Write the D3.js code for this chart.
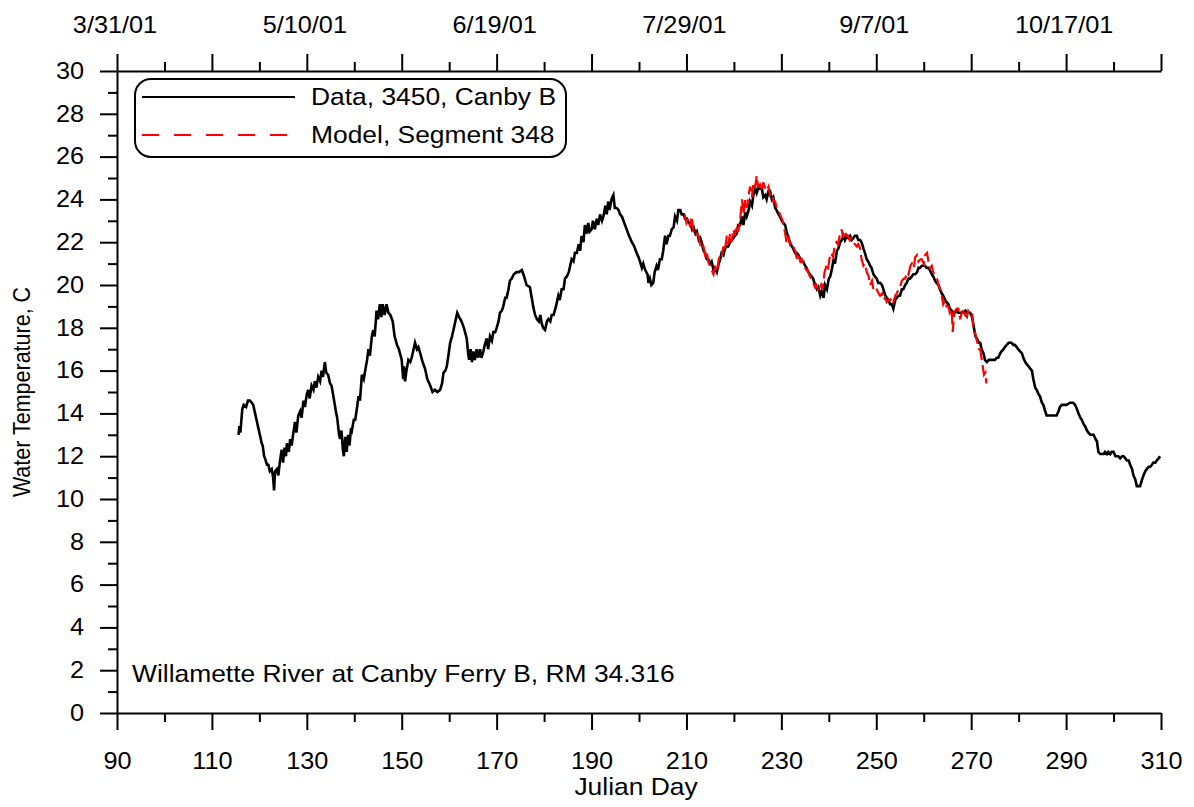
<!DOCTYPE html>
<html>
<head>
<meta charset="utf-8">
<script src="https://cdn.jsdelivr.net/npm/d3@7"></script>
<style>
  html, body { margin: 0; padding: 0; background: #fff; }
  svg { display: block; font-family: "Liberation Sans", Arial, sans-serif; }
</style>
</head>
<body>
<svg id="chart" width="1194" height="807"></svg>
<script>
// ---------- data ----------
const xMajorTicks = [90, 110, 130, 150, 170, 190, 210, 230, 250, 270, 290, 310];
const xMinorTicks = [100, 120, 140, 160, 180, 200, 220, 240, 260, 280, 300];
const yMajorTicks = [0, 2, 4, 6, 8, 10, 12, 14, 16, 18, 20, 22, 24, 26, 28, 30];
const yMinorTicks = [1, 3, 5, 7, 9, 11, 13, 15, 17, 19, 21, 23, 25, 27, 29];
const dateTickDays = [90, 130, 170, 210, 250, 290];
const dateTickLabels = ["3/31/01", "5/10/01", "6/19/01", "7/29/01", "9/7/01", "10/17/01"];
const seriesNames = ["Data, 3450, Canby B", "Model, Segment 348"];
const stationLabel = "Willamette River at Canby Ferry B, RM 34.316";

const dataDay = [115.6,115.8,116.0,116.4,116.7,117.2,117.6,118.0,118.4,118.7,119.1,119.4,119.8,120.1,120.5,120.7,121.0,121.2,121.6,121.9,122.2,122.6,122.9,123.1,123.3,123.7,124.0,124.3,124.7,125.0,125.3,125.6,125.8,126.2,126.5,126.8,127.1,127.5,127.8,128.2,128.6,128.9,129.3,129.6,130.0,130.3,130.6,131.0,131.4,131.7,132.0,132.4,132.8,133.1,133.4,133.8,134.1,134.5,134.9,135.2,135.6,135.9,136.2,136.4,136.8,137.0,137.3,137.6,137.8,138.1,138.4,138.7,139.0,139.3,139.5,139.9,140.2,140.6,140.9,141.2,141.6,142.0,142.3,142.7,143.0,143.3,143.7,144.0,144.3,144.7,145.0,145.4,145.7,146.0,146.4,146.8,147.2,147.6,148.1,148.5,149.0,149.4,150.0,150.3,150.5,150.7,151.0,151.4,151.8,152.1,152.5,152.8,153.2,153.5,153.9,154.4,154.9,155.4,156.0,156.5,157.0,157.5,158.1,158.5,158.8,159.2,159.5,159.9,160.2,160.6,160.9,161.3,161.7,162.1,162.6,163.1,163.7,164.0,164.2,164.5,164.8,165.1,165.4,165.8,166.1,166.5,166.8,167.2,167.5,167.9,168.2,168.6,169.0,169.3,169.7,170.0,170.4,170.7,171.1,171.4,171.8,172.1,172.5,172.8,173.2,173.6,174.2,174.7,175.3,175.8,176.3,177.0,177.4,177.7,178.1,178.5,178.9,179.2,179.5,179.8,180.2,180.6,180.9,181.3,181.6,182.0,182.5,183.0,183.3,183.7,184.1,184.4,184.8,185.2,185.5,185.8,186.2,186.5,186.9,187.3,187.6,187.9,188.3,188.6,189.0,189.3,189.6,190.0,190.3,190.7,191.1,191.4,191.8,192.2,192.5,192.9,193.2,193.5,193.8,194.2,194.6,194.9,195.3,195.7,196.0,196.4,196.9,197.4,197.9,198.5,199.0,199.5,199.9,200.2,200.6,200.9,201.3,201.8,202.0,202.3,202.6,203.0,203.3,203.7,204.0,204.4,204.8,205.1,205.5,205.8,206.2,206.5,206.9,207.3,207.6,208.0,208.3,208.7,209.0,209.4,209.7,210.1,210.5,210.8,211.2,211.5,211.9,212.2,212.6,212.9,213.2,213.6,213.9,214.3,214.6,215.0,215.3,215.7,216.0,216.4,216.8,217.1,217.4,217.8,218.1,218.5,218.8,219.2,219.5,219.9,220.2,220.6,220.9,221.3,221.7,222.0,222.4,222.7,223.1,223.4,223.8,224.1,224.5,224.8,225.2,225.5,225.9,226.2,226.6,226.9,227.3,227.6,228.0,228.3,228.7,229.0,229.4,229.7,230.1,230.4,230.8,231.1,231.5,231.8,232.2,232.5,232.9,233.2,233.6,234.0,234.3,234.6,235.0,235.3,235.7,236.0,236.4,236.7,237.1,237.5,237.8,238.2,238.5,238.9,239.2,239.6,240.0,240.3,240.7,241.0,241.3,241.7,242.0,242.4,242.7,243.1,243.4,243.8,244.1,244.5,244.8,245.2,245.5,245.9,246.2,246.6,246.9,247.3,247.6,248.0,248.3,248.7,249.0,249.4,249.7,250.1,250.4,250.8,251.2,251.5,251.9,252.2,252.6,252.9,253.3,253.6,254.0,254.3,254.7,255.0,255.4,255.7,256.1,256.4,256.8,257.1,257.5,257.8,258.2,258.6,258.9,259.2,259.6,259.9,260.3,260.6,261.0,261.3,261.7,262.0,262.4,262.7,263.1,263.4,263.8,264.1,264.5,264.8,265.2,265.5,265.9,266.3,266.6,267.0,267.3,267.7,268.0,268.4,268.8,269.1,269.5,269.8,270.2,270.5,270.9,271.2,271.6,271.9,272.2,272.6,272.9,273.3,273.7,274.0,274.7,275.0,275.4,275.7,276.1,276.4,276.8,277.1,277.5,277.9,278.2,278.5,278.9,279.2,279.6,279.9,280.3,280.7,281.0,281.4,281.7,282.1,282.4,282.8,283.1,283.5,283.8,284.2,284.5,284.9,285.2,285.6,285.9,286.6,287.3,288.0,288.4,288.7,289.1,289.5,290.1,290.8,291.5,291.9,292.3,292.6,293.0,293.3,293.7,294.0,294.4,294.7,295.1,295.5,295.8,296.2,296.5,296.8,297.2,297.5,297.9,298.2,298.6,298.9,299.3,299.6,300.0,300.4,300.7,301.0,301.4,301.8,302.1,302.5,302.8,303.2,303.5,303.9,304.2,304.6,304.9,305.3,305.6,306.0,306.3,306.7,307.0,307.4,307.7,308.1,308.4,308.8,309.1,309.5,309.8];
const dataTemp = [13.0,13.4,13.1,14.2,14.4,14.3,14.6,14.6,14.5,14.4,14.0,13.7,13.3,13.0,12.6,12.5,12.0,11.9,11.6,11.6,11.3,11.4,11.0,10.4,11.3,11.4,11.1,11.7,12.3,11.7,12.4,12.0,12.6,12.2,12.8,12.5,13.0,13.6,13.1,13.9,14.1,13.8,14.6,14.3,14.9,15.1,14.7,15.3,15.1,15.5,15.2,15.7,15.5,16.0,15.7,16.4,15.9,15.8,15.4,15.3,14.8,14.4,14.0,13.8,13.0,12.8,13.2,12.3,12.0,12.9,12.2,13.0,12.5,13.3,13.2,13.7,13.7,14.3,14.8,14.6,15.8,15.6,16.0,16.5,17.0,16.7,17.6,17.9,17.6,18.8,18.4,19.1,18.5,19.1,18.6,19.1,18.7,18.6,18.3,17.6,17.2,17.0,16.5,15.6,16.2,15.5,16.0,16.5,16.4,16.6,17.0,17.3,17.0,17.1,16.8,16.4,16.1,15.6,15.3,15.0,15.1,15.0,15.1,15.4,15.9,16.0,16.2,16.8,17.3,17.6,17.9,18.3,18.7,18.5,18.3,18.0,17.5,16.8,16.5,17.0,16.4,16.9,16.5,17.0,16.6,17.0,16.6,16.9,17.2,17.5,17.0,17.6,17.4,17.8,17.8,18.0,18.3,18.7,18.8,19.0,19.4,19.4,19.8,20.2,20.3,20.5,20.6,20.6,20.7,20.4,20.0,19.9,19.4,19.0,18.6,18.4,18.3,18.6,18.2,18.0,17.9,18.3,18.4,18.3,18.6,18.6,19.0,19.5,19.3,19.8,19.8,20.3,20.4,20.6,20.9,21.2,21.1,21.5,21.5,21.9,21.6,22.3,22.0,22.8,22.4,22.9,22.5,22.6,23.0,22.6,23.1,22.8,23.3,23.0,23.2,23.7,23.3,23.9,23.5,24.0,24.2,23.6,23.6,23.5,23.3,23.2,22.9,22.6,22.3,22.0,21.8,21.5,21.3,21.1,20.8,21.0,20.7,20.5,20.1,20.3,20.0,20.1,20.6,20.9,20.7,21.2,21.2,21.6,22.3,21.9,22.3,22.3,22.6,22.7,23.2,23.0,23.5,23.5,23.3,23.3,23.1,23.1,22.9,22.9,22.6,22.7,22.4,22.5,22.1,22.2,22.0,21.6,21.5,21.2,21.2,21.0,21.1,20.7,20.8,20.6,21.0,21.2,21.5,21.4,21.7,21.8,21.8,22.0,22.1,22.2,22.3,22.4,22.8,22.8,23.2,22.8,23.4,23.2,23.5,23.9,23.7,24.2,24.5,24.3,24.6,24.5,24.5,24.1,24.2,24.0,24.4,24.4,24.0,24.1,23.6,23.5,23.3,23.2,23.0,22.9,22.8,22.5,22.2,22.0,21.8,21.7,21.5,21.5,21.4,21.2,21.1,21.1,20.9,20.8,20.6,20.5,20.4,20.3,20.0,19.8,19.9,19.5,19.7,19.4,20.0,19.8,20.3,20.4,20.8,21.2,21.0,21.6,21.7,22.0,22.1,22.3,22.1,22.3,22.2,22.3,22.1,22.2,22.3,22.3,22.1,22.1,22.0,21.7,21.5,21.2,21.1,20.9,20.8,20.5,20.4,20.3,20.1,20.1,20.0,19.8,19.5,19.4,19.3,19.1,19.1,18.9,19.3,19.4,19.5,19.5,19.8,19.8,20.0,20.1,20.3,20.3,20.4,20.5,20.5,20.6,20.8,20.8,20.9,20.9,20.9,20.8,20.8,20.7,20.5,20.4,20.2,20.1,20.0,19.8,19.6,19.5,19.3,19.2,19.1,18.9,18.8,18.7,18.7,18.8,18.7,18.7,18.7,18.7,18.8,18.7,18.7,18.7,18.5,18.1,17.6,17.5,17.3,17.3,17.0,16.8,16.5,16.4,16.5,16.5,16.5,16.5,16.6,16.6,16.8,16.9,17.0,17.1,17.2,17.3,17.3,17.3,17.2,17.2,17.1,17.0,16.9,16.8,16.6,16.4,16.3,16.2,16.1,16.0,15.6,15.2,15.1,14.9,14.8,14.5,14.4,14.1,13.9,13.9,13.9,13.9,14.1,14.3,14.4,14.4,14.4,14.5,14.5,14.4,14.2,14.0,13.8,13.7,13.5,13.4,13.2,13.1,13.0,13.0,13.0,12.8,12.7,12.2,12.1,12.1,12.1,12.2,12.1,12.2,12.1,12.2,12.2,12.0,12.0,12.0,11.9,12.0,12.0,11.9,11.8,11.8,11.6,11.4,11.1,10.9,10.6,10.6,10.6,10.9,11.1,11.3,11.4,11.5,11.5,11.6,11.7,11.7,11.8,11.9,12.0];

const modelDay = [209.6,210.0,210.4,210.8,211.1,211.5,211.8,212.2,212.5,212.9,213.2,213.6,214.0,214.3,214.7,215.0,215.3,215.7,216.0,216.4,216.8,217.1,217.4,217.8,218.1,218.5,218.8,219.2,219.5,219.9,220.2,220.6,220.9,221.3,221.7,222.0,222.4,222.7,223.1,223.4,223.8,224.1,224.5,224.8,225.1,225.5,225.9,226.2,226.6,226.9,227.3,227.6,228.0,228.3,228.7,229.0,229.4,229.7,230.1,230.4,230.8,231.1,231.5,231.8,232.2,232.5,232.9,233.3,233.6,234.0,234.3,234.6,235.0,235.3,235.7,236.0,236.4,236.7,237.1,237.4,237.7,238.0,238.4,238.7,239.1,239.5,239.8,240.2,240.5,240.9,241.2,241.6,241.9,242.3,242.7,243.0,243.4,243.7,244.1,244.4,244.8,245.2,245.5,245.9,246.2,246.6,246.9,247.3,247.6,248.0,248.4,248.7,249.1,249.4,249.8,250.1,250.5,250.8,251.2,251.5,251.9,252.2,252.6,252.9,253.3,253.6,254.0,254.3,254.7,255.0,255.4,255.8,256.1,256.5,256.8,257.2,257.5,257.9,258.2,258.6,258.9,259.3,259.6,260.0,260.3,260.7,261.0,261.3,261.7,262.0,262.4,262.8,263.1,263.5,263.8,264.1,264.5,264.8,265.2,265.5,265.9,266.1,266.4,266.6,267.0,267.3,267.7,268.0,268.4,268.7,269.1,269.4,269.8,270.2,270.5,270.9,271.2,271.6,271.9,272.3,272.7,273.0,273.2];
const modelTemp = [23.3,22.9,23.1,22.7,23.2,22.5,22.3,22.4,22.3,21.9,22.0,21.8,21.3,21.5,21.0,20.9,20.7,20.5,20.8,20.6,21.2,21.4,21.3,21.8,21.6,22.3,21.9,22.4,22.0,22.6,22.3,22.8,22.5,23.0,24.0,23.3,24.0,23.6,24.2,24.6,24.1,24.8,24.6,25.1,24.6,24.7,24.4,24.8,24.5,24.4,24.6,24.2,24.3,23.9,23.9,23.6,23.5,23.3,23.1,22.9,22.4,22.0,22.3,21.9,22.0,21.8,21.6,21.2,21.4,21.1,21.2,21.0,20.8,20.7,20.6,20.4,20.3,20.1,19.9,20.0,19.8,19.7,20.0,19.8,20.6,20.9,20.7,21.3,21.5,21.3,21.8,22.0,21.9,22.3,22.6,22.2,22.5,22.3,22.3,22.1,22.2,22.0,21.9,21.8,21.9,21.7,21.2,20.9,21.0,20.6,20.4,20.0,20.2,19.8,19.9,19.8,19.6,19.5,19.6,19.3,19.4,19.2,19.3,19.3,19.4,19.2,19.5,19.6,19.8,19.9,20.2,20.3,20.3,20.6,20.5,20.9,21.0,20.8,21.3,21.4,21.1,21.2,21.2,21.0,21.4,21.5,21.1,20.8,20.9,20.6,20.4,20.3,20.0,19.8,19.5,19.1,19.3,19.0,19.0,18.7,18.9,17.8,18.6,18.8,18.9,18.9,18.4,18.7,18.9,18.6,18.5,18.8,18.7,18.7,17.9,17.7,17.4,17.0,17.0,16.4,15.8,15.9,15.4];

// ---------- layout ----------
const plotLeft = 117, plotRight = 1161, plotTop = 71, plotBottom = 713;
const font = '"Liberation Sans", Arial, sans-serif';
const SX = 1.1;               // the source chart's lettering is slightly wide
const tickFont = 23, textFont = 24, yTitleFont = 21.5;

const svg = d3.select("#chart");
const x = d3.scaleLinear().domain([90, 310]).range([plotLeft, plotRight]);
const y = d3.scaleLinear().domain([0, 30]).range([plotBottom, plotTop]);

function styleAxis(g) {
  g.selectAll("path.domain").attr("stroke", "#000").attr("stroke-width", 2);
  g.selectAll(".tick line").attr("stroke", "#000").attr("stroke-width", 2);
}
function wideText(parent, tx, ty, str, size, anchor) {
  return parent.append("text")
    .attr("transform", `translate(${tx},${ty}) scale(${SX},1)`)
    .attr("text-anchor", anchor || "start")
    .attr("font-family", font).attr("font-size", size).attr("fill", "#000")
    .text(str);
}

// bottom axis
const gB = svg.append("g").attr("transform", `translate(0,${plotBottom})`)
  .call(d3.axisBottom(x).tickValues(xMajorTicks).tickSize(17).tickSizeOuter(0).tickFormat(d3.format("d")));
styleAxis(gB);
gB.selectAll(".tick text").attr("font-family", font).attr("font-size", tickFont).attr("fill", "#000")
  .attr("y", 56).attr("dy", 0).attr("transform", `scale(${SX},1)`);
const gBm = svg.append("g").attr("transform", `translate(0,${plotBottom})`)
  .call(d3.axisBottom(x).tickValues(xMinorTicks).tickSize(9).tickSizeOuter(0).tickFormat(""));
gBm.select("path.domain").remove();
styleAxis(gBm);

// top axis
const gT = svg.append("g").attr("transform", `translate(0,${plotTop})`)
  .call(d3.axisTop(x).tickValues(xMajorTicks).tickSize(17).tickSizeOuter(0).tickFormat(""));
styleAxis(gT);
const gTm = svg.append("g").attr("transform", `translate(0,${plotTop})`)
  .call(d3.axisTop(x).tickValues(xMinorTicks).tickSize(9).tickSizeOuter(0).tickFormat(""));
gTm.select("path.domain").remove();
styleAxis(gTm);

const gDates = svg.append("g");
dateTickDays.forEach((d, i) => wideText(gDates, x(d) - 2, 33, dateTickLabels[i], tickFont, "middle"));

// left axis
const gL = svg.append("g").attr("transform", `translate(${plotLeft},0)`)
  .call(d3.axisLeft(y).tickValues(yMajorTicks).tickSize(17).tickSizeOuter(0).tickPadding(13).tickFormat(d3.format("d")));
styleAxis(gL);
gL.selectAll(".tick text").attr("font-family", font).attr("font-size", tickFont).attr("fill", "#000")
  .attr("transform", `scale(${SX},1)`);
const gLm = svg.append("g").attr("transform", `translate(${plotLeft},0)`)
  .call(d3.axisLeft(y).tickValues(yMinorTicks).tickSize(9).tickSizeOuter(0).tickFormat(""));
gLm.select("path.domain").remove();
styleAxis(gLm);

// axis titles
wideText(svg, 636, 795, "Julian Day", textFont, "middle");
svg.append("text")
  .attr("transform", `translate(30,${(plotTop + plotBottom) / 2}) scale(${SX},1) rotate(-90)`)
  .attr("text-anchor", "middle")
  .attr("font-family", font).attr("font-size", yTitleFont).attr("fill", "#000")
  .text("Water Temperature, C");

// lines
const line = d3.line().x(d => x(d[0])).y(d => y(d[1]));
const dataPts = dataDay.map((d, i) => [d, dataTemp[i]]);
const modelPts = modelDay.map((d, i) => [d, modelTemp[i]]);

svg.append("path").datum(dataPts)
  .attr("d", line).attr("fill", "none")
  .attr("stroke", "#000").attr("stroke-width", 2.6).attr("stroke-linejoin", "miter");
svg.append("path").datum(modelPts)
  .attr("d", line).attr("fill", "none")
  .attr("stroke", "#ff0000").attr("stroke-width", 2.2)
  .attr("stroke-dasharray", "13,5");

// station label
wideText(svg, 132, 682, stationLabel, textFont);

// legend
const lg = svg.append("g");
lg.append("rect")
  .attr("x", 135).attr("y", 79).attr("width", 431).attr("height", 78)
  .attr("rx", 16).attr("ry", 16)
  .attr("fill", "#fff").attr("stroke", "#000").attr("stroke-width", 2);
const legendRows = [
  { name: seriesNames[0], color: "#000", dash: null, y: 97, x2: 295 },
  { name: seriesNames[1], color: "#ff0000", dash: "17,15", y: 135, x2: 288 }
];
legendRows.forEach(r => {
  lg.append("line")
    .attr("x1", 142).attr("x2", r.x2).attr("y1", r.y).attr("y2", r.y)
    .attr("stroke", r.color).attr("stroke-width", 2)
    .attr("stroke-dasharray", r.dash);
  wideText(lg, 311, r.y + 8, r.name, textFont);
});
</script>
</body>
</html>
